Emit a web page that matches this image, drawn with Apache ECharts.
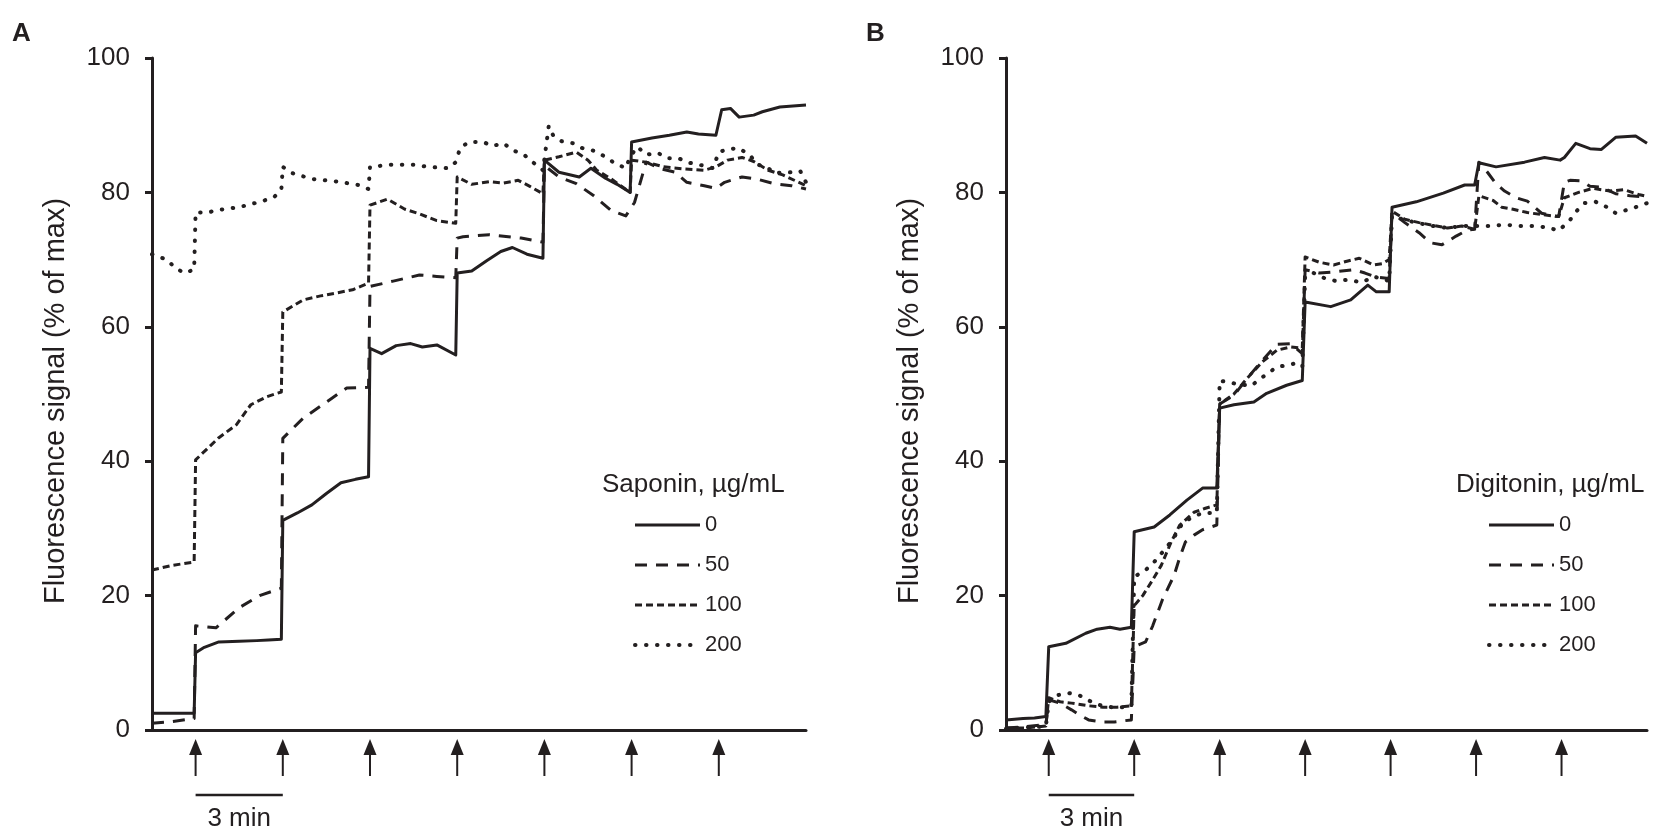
<!DOCTYPE html>
<html>
<head>
<meta charset="utf-8">
<title>Saponin / Digitonin permeabilization</title>
<script src="https://cdn.jsdelivr.net/npm/echarts@6/dist/echarts.min.js"></script>
<style>
  html, body { margin: 0; padding: 0; background: #ffffff; }
  #chart { width: 1654px; height: 837px; }
</style>
</head>
<body>
<div id="chart"></div>
<script>
// Time (min) vs fluorescence (% of max)
const doses = ['0', '50', '100', '200'];
const arrowTimes = [1.5, 4.5, 7.5, 10.5, 13.5, 16.5, 19.5];
const scaleBar = [1.5, 4.5];   // 3 min
const timeMax = 22.5;
const yTicks = { min: 0, max: 100, step: 20 };

// Panel A - saponin
const sap0 = [[0,2.5],[1.45,2.5],[1.5,11.5],[1.8,12.3],[2.3,13.1],[3.0,13.2],[3.6,13.3],[4.0,13.4],[4.45,13.5],
  [4.5,31.2],[5.0,32.3],[5.5,33.5],[6.0,35.2],[6.5,36.8],[7.0,37.3],[7.45,37.7],
  [7.5,56.8],[7.9,56.0],[8.4,57.2],[8.9,57.5],[9.3,57.0],[9.8,57.3],[10.45,55.8],
  [10.5,68.0],[11.0,68.3],[11.5,69.8],[12.0,71.2],[12.4,71.8],[12.9,70.8],[13.45,70.2],
  [13.5,84.8],[14.0,83.0],[14.7,82.3],[15.1,83.6],[15.6,82.1],[16.0,81.2],[16.45,80.0],
  [16.5,87.5],[17.2,88.1],[17.8,88.5],[18.4,89.0],[18.8,88.7],[19.4,88.5],[19.6,92.3],[19.9,92.5],
  [20.2,91.2],[20.7,91.5],[21.0,92.0],[21.6,92.7],[22.5,93.0]];
const sap50 = [[0,1.0],[0.6,1.2],[1.45,1.7],[1.5,15.5],[2.2,15.2],[3.0,18.2],[3.7,20.0],[4.45,21.1],
  [4.5,43.4],[5.2,46.4],[6.0,48.8],[6.7,50.9],[7.45,51.0],
  [7.5,66.0],[8.3,66.8],[9.2,67.7],[9.8,67.5],[10.45,67.3],
  [10.5,73.2],[10.7,73.4],[11.6,73.7],[12.7,73.2],[13.45,72.6],
  [13.5,84.0],[14.0,82.3],[14.6,81.3],[15.2,79.5],[15.8,77.3],[16.3,76.5],[16.6,78.5],[17.0,84.5],
  [17.5,83.5],[18.0,83.0],[18.4,81.5],[19.0,81.0],[19.4,80.6],[19.7,81.5],[20.3,82.3],[20.8,82.0],
  [21.4,81.3],[22.0,81.0],[22.5,80.5]];
const sap100 = [[0,23.8],[0.7,24.5],[1.45,25.0],[1.5,40.2],[2.3,43.5],[2.9,45.4],[3.4,48.4],[3.95,49.6],[4.45,50.3],
  [4.5,62.2],[5.2,64.0],[5.8,64.6],[6.3,65.0],[6.9,65.5],[7.45,66.5],
  [7.5,78.1],[8.1,79.0],[8.7,77.5],[9.2,76.8],[9.8,75.8],[10.45,75.4],
  [10.5,82.3],[11.0,81.2],[11.6,81.6],[12.1,81.4],[12.6,81.8],[13.0,80.9],[13.45,79.8],
  [13.5,84.8],[14.0,85.3],[14.6,86.0],[15.0,84.8],[15.3,83.3],[15.8,82.0],[16.45,80.0],
  [16.5,84.8],[17.0,84.5],[17.6,83.8],[18.3,83.5],[19.0,83.3],[19.4,83.8],[19.8,84.8],[20.3,85.2],
  [20.7,84.6],[21.2,83.3],[21.7,82.6],[22.5,81.0]];
const sap200 = [[0,70.8],[0.5,70.0],[0.8,68.8],[1.1,68.0],[1.45,68.5],[1.5,77.0],[1.9,77.0],[2.3,77.4],[3.0,77.8],
  [3.8,78.7],[4.2,79.3],[4.45,80.4],
  [4.5,83.8],[4.8,82.9],[5.5,82.0],[6.4,81.6],[7.1,81.1],[7.45,80.5],
  [7.5,83.8],[8.2,84.1],[9.0,84.1],[9.5,83.8],[10.2,83.6],[10.45,84.5],[10.6,86.6],[10.9,87.5],[11.4,87.5],
  [11.7,86.9],[12.1,87.3],[12.4,86.3],[12.8,85.6],[13.1,84.5],[13.45,83.3],
  [13.55,86.6],[13.65,89.9],[13.8,88.5],[14.1,87.6],[14.5,87.3],[14.8,86.6],[15.2,86.2],[15.6,85.3],
  [15.9,84.4],[16.3,83.6],[16.45,85.3],[16.7,86.8],[17.0,85.6],[17.4,85.9],[17.7,85.1],[18.1,85.1],
  [18.5,84.4],[18.85,84.1],[19.3,83.6],[19.5,86.0],[19.8,86.4],[20.2,86.6],[20.6,85.4],[20.8,84.2],
  [21.2,83.6],[21.4,82.9],[22.0,83.0],[22.3,83.2],[22.5,81.5]];

// Panel B - digitonin
const dig0 = [[0,1.5],[0.6,1.7],[1.0,1.8],[1.4,2.0],[1.5,12.4],[2.1,12.9],[2.8,14.4],[3.2,15.0],[3.65,15.3],[4.0,15.0],[4.4,15.3],
  [4.5,29.5],[5.2,30.2],[5.75,32.0],[6.35,34.2],[6.9,36.0],[7.4,36.0],
  [7.5,47.9],[8.0,48.4],[8.7,48.8],[9.15,50.1],[9.85,51.3],[10.4,52.0],
  [10.5,63.7],[11.4,63.0],[12.1,64.0],[12.7,66.2],[13.0,65.2],[13.45,65.2],
  [13.55,77.8],[14.4,78.6],[15.35,79.9],[16.1,81.1],[16.45,81.1],
  [16.6,84.4],[17.2,83.8],[18.2,84.5],[18.9,85.2],[19.45,84.8],[19.6,85.2],[20.0,87.3],[20.5,86.5],
  [20.9,86.4],[21.4,88.2],[22.1,88.4],[22.5,87.3]];
const dig50 = [[0,0.3],[0.7,0.5],[1.4,0.8],[1.5,4.5],[1.9,4.0],[2.3,3.0],[2.6,2.2],[2.9,1.5],[3.4,1.2],[3.8,1.2],[4.4,1.5],
  [4.5,12.4],[4.9,13.1],[5.15,15.5],[5.5,19.5],[5.9,23.0],[6.1,25.7],[6.3,28.0],[6.6,29.0],[6.9,29.8],[7.4,30.5],
  [7.5,48.5],[8.0,49.8],[8.5,52.5],[9.0,55.0],[9.5,57.4],[10.0,57.5],[10.4,56.0],
  [10.5,68.5],[11.0,68.0],[11.6,68.2],[12.2,68.5],[12.6,68.0],[13.0,67.4],[13.45,67.2],
  [13.55,77.0],[14.0,75.5],[14.5,74.0],[14.9,72.5],[15.3,72.2],[15.8,73.5],[16.2,74.4],[16.45,74.5],
  [16.6,84.5],[16.9,83.0],[17.2,81.3],[17.5,80.2],[17.9,79.2],[18.3,78.7],[18.8,76.9],[19.1,76.6],[19.4,76.4],
  [19.6,81.5],[19.8,81.8],[20.2,81.7],[20.5,80.9],[20.9,80.8],[21.4,79.8],[21.9,79.5],[22.5,79.3]];
const dig100 = [[0,0.3],[0.7,0.3],[1.4,0.6],[1.5,4.8],[1.9,4.2],[2.3,4.0],[2.9,3.6],[3.4,3.4],[3.9,3.4],[4.4,3.6],
  [4.5,18.5],[4.8,20.0],[5.1,22.0],[5.45,24.5],[5.8,28.0],[6.1,30.5],[6.6,32.4],[7.0,33.0],[7.4,33.5],
  [7.5,48.5],[8.0,50.0],[8.5,52.5],[9.0,54.8],[9.5,56.5],[10.0,57.0],[10.4,56.8],
  [10.5,70.4],[11.0,69.6],[11.5,69.2],[12.0,69.8],[12.4,70.2],[12.9,69.2],[13.2,69.4],[13.45,70.0],
  [13.55,77.2],[14.0,76.0],[14.5,75.5],[15.0,75.1],[15.5,74.7],[16.0,75.0],[16.45,74.5],
  [16.6,79.5],[17.1,78.8],[17.4,77.8],[17.8,77.5],[18.3,77.0],[18.8,76.7],[19.4,76.4],
  [19.6,79.2],[20.1,80.0],[20.6,80.6],[21.2,80.2],[21.7,80.4],[22.2,79.7],[22.5,79.4]];
const dig200 = [[0,0.2],[0.5,0.3],[1.0,0.5],[1.4,0.5],[1.5,4.2],[1.83,5.2],[2.2,5.5],[2.6,5.1],[2.95,4.3],[3.3,3.7],
  [3.7,3.4],[4.1,3.4],[4.4,3.5],
  [4.5,22.8],[4.9,23.8],[5.2,25.0],[5.5,26.5],[5.85,28.3],[6.2,30.8],[6.55,31.7],[6.9,32.3],[7.4,32.3],
  [7.5,52.0],[8.1,51.5],[8.6,51.2],[9.0,52.5],[9.5,54.0],[10.1,54.5],[10.4,54.0],
  [10.5,67.5],[10.8,68.0],[11.2,67.2],[11.6,66.8],[12.0,67.0],[12.5,66.6],[12.9,67.5],[13.45,66.8],
  [13.55,76.5],[14.0,75.9],[14.5,75.4],[15.0,75.0],[15.5,74.7],[16.0,75.0],[16.45,75.0],[17.0,75.0],
  [17.5,75.2],[18.0,75.0],[18.5,75.0],[19.0,74.8],[19.4,74.3],
  [19.8,75.9],[20.0,77.1],[20.3,78.4],[20.7,78.6],[21.1,77.8],[21.4,76.9],[21.8,77.4],[22.1,77.8],[22.5,78.4]];

const ink = '#231f20';
const font = '"Liberation Sans", Arial, Helvetica, sans-serif';

// solid, long dash, short dash, dots
const dashStyles = [
  { type: 'solid', width: 3 },
  { type: [12, 9], width: 3 },
  { type: [7, 4], width: 3 },
  { type: [0.5, 10.5], width: 4, cap: 'round' }
];

const panels = [
  { letter: 'A', legendTitle: 'Saponin, µg/mL', data: [sap0, sap50, sap100, sap200], left: 152, right: 848 },
  { letter: 'B', legendTitle: 'Digitonin, µg/mL', data: [dig0, dig50, dig100, dig200], left: 1006, right: 7 }
];

const chart = echarts.init(document.getElementById('chart'), null, { renderer: 'canvas' });

const grids = [], xAxes = [], yAxes = [], series = [], titles = [], legends = [];
panels.forEach((p, i) => {
  grids.push({ left: p.left, right: p.right, top: 58, bottom: 107, containLabel: false });
  xAxes.push({
    type: 'value', gridIndex: i, min: 0, max: timeMax,
    axisLine: { show: true, onZero: false, lineStyle: { color: ink, width: 3 } },
    axisTick: { show: false }, axisLabel: { show: false }, splitLine: { show: false }
  });
  yAxes.push({
    type: 'value', gridIndex: i, min: yTicks.min, max: yTicks.max, interval: yTicks.step,
    name: 'Fluorescence signal (% of max)', nameLocation: 'middle', nameGap: 82,
    nameTextStyle: { color: ink, fontSize: 29, fontFamily: font, padding: [0, 14, 0, 0] },
    axisLine: { show: true, lineStyle: { color: ink, width: 3 } },
    axisTick: { show: true, inside: false, length: 7, lineStyle: { color: ink, width: 3 } },
    axisLabel: { color: ink, fontSize: 26, fontFamily: font, margin: 22 },
    splitLine: { show: false }
  });
  p.data.forEach((d, k) => {
    series.push({
      name: doses[k], type: 'line', xAxisIndex: i, yAxisIndex: i,
      data: d, symbol: 'none', showSymbol: false, smooth: false,
      lineStyle: Object.assign({ color: ink, join: 'round' }, dashStyles[k]),
      itemStyle: { color: ink }
    });
  });
  titles.push({
    text: p.letter, left: p.left - 140, top: 21, padding: 0,
    textStyle: { color: ink, fontSize: 26, fontWeight: 'bold', fontFamily: font }
  });
  titles.push({
    text: p.legendTitle, left: p.left + 450, top: 472, padding: 0,
    textStyle: { color: ink, fontSize: 26, fontWeight: 'normal', fontFamily: font }
  });
  legends.push({
    data: doses.map((d, k) => ({ name: d, lineStyle: { width: dashStyles[k].width } })),
    orient: 'vertical', left: p.left + 481, top: 514, padding: 0,
    itemWidth: 65, itemHeight: 14, itemGap: 18, selectedMode: false,
    itemStyle: { opacity: 0, borderWidth: 0 },
    lineStyle: { width: 3 },
    textStyle: { color: ink, fontSize: 22, fontFamily: font }
  });
});

chart.setOption({
  animation: false,
  backgroundColor: '#ffffff',
  title: titles,
  legend: legends,
  grid: grids,
  xAxis: xAxes,
  yAxis: yAxes,
  series: series
});

// arrows under the time axis and the 3 min scale bar
function drawMarkers() {
  const elements = [];
  panels.forEach((p, i) => {
    arrowTimes.forEach(t => {
      const [x, y0] = chart.convertToPixel({ gridIndex: i }, [t, 0]);
      elements.push({
        type: 'polygon', silent: true,
        shape: { points: [[x, y0 + 9], [x - 6.5, y0 + 25], [x + 6.5, y0 + 25]] },
        style: { fill: ink }
      });
      elements.push({
        type: 'line', silent: true,
        shape: { x1: x, y1: y0 + 24, x2: x, y2: y0 + 46 },
        style: { stroke: ink, lineWidth: 2 }
      });
    });
    const [xa, y0] = chart.convertToPixel({ gridIndex: i }, [scaleBar[0], 0]);
    const [xb] = chart.convertToPixel({ gridIndex: i }, [scaleBar[1], 0]);
    elements.push({
      type: 'line', silent: true,
      shape: { x1: xa, y1: y0 + 65, x2: xb, y2: y0 + 65 },
      style: { stroke: ink, lineWidth: 2.5 }
    });
    elements.push({
      type: 'text', silent: true, x: (xa + xb) / 2, y: y0 + 89,
      style: { text: '3 min', fill: ink, fontSize: 26, fontFamily: font, align: 'center', verticalAlign: 'middle' }
    });
  });
  chart.setOption({ graphic: elements });
}
drawMarkers();
</script>
</body>
</html>
